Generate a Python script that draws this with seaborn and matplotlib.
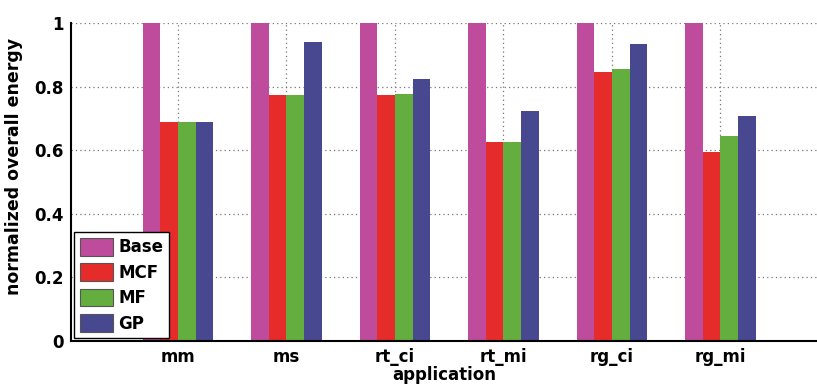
import matplotlib
matplotlib.use("Agg")
import matplotlib.pyplot as plt
import seaborn as sns
import pandas as pd
from matplotlib.patches import Patch

applications = ["mm", "ms", "rt_ci", "rt_mi", "rg_ci", "rg_mi"]
schemes = ["Base", "MCF", "MF", "GP"]
base = [1.0, 1.0, 1.0, 1.0, 1.0, 1.0]
mcf = [0.690, 0.774, 0.774, 0.625, 0.847, 0.593]
mf = [0.690, 0.774, 0.776, 0.627, 0.854, 0.645]
gp = [0.690, 0.939, 0.823, 0.723, 0.935, 0.707]
yticks = [0, 0.2, 0.4, 0.6, 0.8, 1]
ytick_labels = ["0", "0.2", "0.4", "0.6", "0.8", "1"]

colors = {"Base": "#BE4B9C", "MCF": "#E62B2B", "MF": "#63AE3E", "GP": "#484891"}

rows = []
for name, vals in zip(schemes, [base, mcf, mf, gp]):
    for app, v in zip(applications, vals):
        rows.append({"application": app, "scheme": name, "energy": v})
df = pd.DataFrame(rows)

sns.set_style("white")
plt.rcParams["font.family"] = ["DejaVu Sans"]
plt.rcParams["font.weight"] = "bold"
plt.rcParams["text.color"] = "black"
plt.rcParams["axes.labelcolor"] = "black"
plt.rcParams["xtick.color"] = "black"
plt.rcParams["ytick.color"] = "black"

fig = plt.figure(figsize=(8.17, 3.85), dpi=100)
ax = fig.add_axes([71 / 817, 44 / 385, 746 / 817, 318 / 385])

sns.barplot(data=df, x="application", y="energy", hue="scheme",
            hue_order=schemes, order=applications, palette=colors,
            width=0.65, gap=0, linewidth=0, saturation=1,
            legend=False, ax=ax, zorder=2)

ax.set_xlim(-0.986, 5.89)
ax.set_ylim(0, 1)
ax.set_yticks(yticks)
ax.set_yticklabels(ytick_labels)

ax.grid(True, axis="both", linestyle=(0, (1, 2.5)), color="#777777",
        linewidth=0.9, zorder=0)
ax.set_axisbelow(True)

for side in ["top", "right"]:
    ax.spines[side].set_visible(False)
for side in ["left", "bottom"]:
    ax.spines[side].set_linewidth(1.5)
    ax.spines[side].set_color("black")

ax.tick_params(axis="x", direction="in", length=5, width=1.2,
               labelsize=12, labelcolor="black", color="black", pad=5)
ax.tick_params(axis="y", direction="out", length=3, width=1.2,
               labelsize=12, labelcolor="black", color="black", pad=2)
for lbl in ax.get_xticklabels() + ax.get_yticklabels():
    lbl.set_fontweight("bold")

ax.set_xlabel("application", fontsize=12, fontweight="bold", labelpad=0,
              color="black")
ax.set_ylabel("normalized overall energy", fontsize=12.5, fontweight="bold",
              color="black")
ax.yaxis.set_label_coords(-0.064, 0.55)

handles = [Patch(facecolor=colors[s], edgecolor="#555555", linewidth=0.8)
           for s in schemes]
leg = ax.legend(handles, schemes, loc="lower left",
                bbox_to_anchor=(0.004, 0.008),
                prop={"weight": "bold", "size": 12},
                frameon=True, fancybox=False, edgecolor="black",
                framealpha=1, facecolor="white",
                handlelength=2.0, handleheight=1.25, handletextpad=0.3,
                labelspacing=0.42, borderpad=0.35, borderaxespad=0)
leg.get_frame().set_linewidth(1.0)
for t in leg.get_texts():
    t.set_color("black")
leg.set_zorder(5)

fig.savefig("out.png", dpi=100)
